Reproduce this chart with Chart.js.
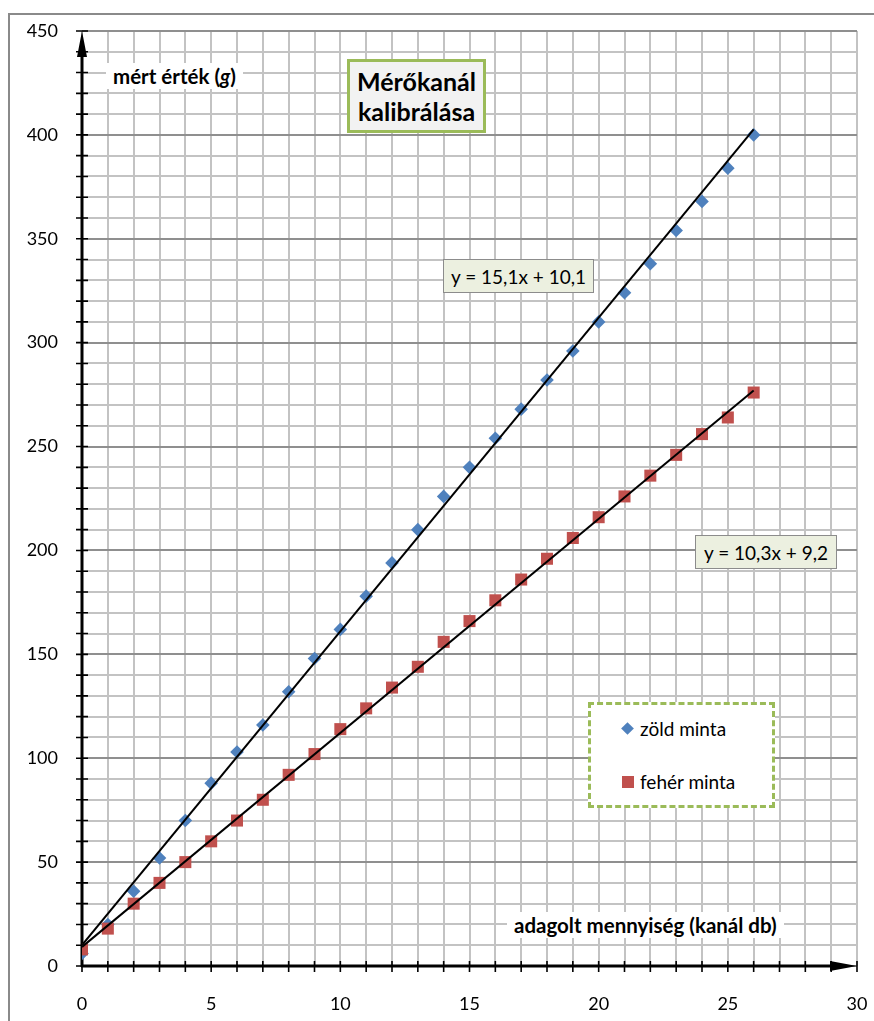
<!DOCTYPE html>
<html>
<head>
<meta charset="utf-8">
<script src="https://cdn.jsdelivr.net/npm/chart.js@4.4.1/dist/chart.umd.min.js"></script>
<style>
  html, body { margin: 0; padding: 0; background: #fff; }
  body { font-family: Lato, "Open Sans", sans-serif; color: #000; }
  #wrap { position: relative; width: 874px; height: 1021px; overflow: hidden; }
  #frame { position: absolute; left: 8px; top: 13px; right: -10px; bottom: -10px;
           border-top: 2px solid #8a8a8a; border-left: 2px solid #8a8a8a; }
  canvas { position: absolute; left: 0; top: 0; }
  .box { position: absolute; box-sizing: border-box; display: flex; flex-direction: column;
         align-items: center; justify-content: center; text-align: center; }
  #title { left: 347px; top: 59px; width: 139px; height: 74px; background: #f2f2f2;
           border: 3px solid #9bbb59; font-weight: bold; font-size: 25px; line-height: 30px; }
  .eq { background: #ecf0e0; border: 1.5px solid #8c8c8c; font-size: 19px; height: 34px; white-space: nowrap; }
  #eq1 { left: 443px; top: 259px; width: 151px; }
  #eq2 { left: 695px; top: 535px; width: 142px; }
  #legend { position: absolute; left: 588px; top: 702px; width: 187px; height: 106px;
            box-sizing: border-box; border: 3px dashed #9bbb59; background: #fff; }
  .lt { position: absolute; left: 49px; font-size: 19px; line-height: 22px; white-space: nowrap; }
  .dia { position: absolute; left: 32px; top: 19px; width: 9px; height: 9px; background: #4f81bd; transform: rotate(45deg); }
  .sq { position: absolute; left: 31px; top: 71px; width: 12px; height: 12px; background: #c0504d; }
  .atitle { position: absolute; background: #fff; font-weight: bold; font-size: 20.5px;
            line-height: 22px; padding: 2px 7px; white-space: nowrap; }
  #ytitle { left: 106px; top: 63px; }
  #xtitle { left: 507px; top: 912px; }
</style>
</head>
<body>
<div id="wrap">
  <div id="frame"></div>
  <canvas id="chart" width="874" height="1021"></canvas>
  <div id="ytitle" class="atitle">mért érték (<i>g</i>)</div>
  <div id="xtitle" class="atitle">adagolt mennyiség (kanál db)</div>
  <div id="title" class="box"><div>Mérőkanál</div><div>kalibrálása</div></div>
  <div id="eq1" class="box eq">y = 15,1x + 10,1</div>
  <div id="eq2" class="box eq">y = 10,3x + 9,2</div>
  <div id="legend">
    <div class="dia"></div><div class="lt" style="top:13px">zöld minta</div>
    <div class="sq"></div><div class="lt" style="top:66px">fehér minta</div>
  </div>
</div>
<script>
// spoon counts (kanál db)
const spoons = [0, 1, 2, 3, 4, 5, 6, 7, 8, 9, 10, 11, 12, 13, 14, 15, 16, 17, 18, 19, 20, 21, 22, 23, 24, 25, 26];
// measured mass (g)
const greenSample = [6, 20, 36, 52, 70, 88, 103, 116, 132, 148, 162, 178, 194, 210, 226, 240, 254, 268, 282, 296, 310, 324, 338, 354, 368, 384, 400];
const whiteSample = [8, 18, 30, 40, 50, 60, 70, 80, 92, 102, 114, 124, 134, 144, 156, 166, 176, 186, 196, 206, 216, 226, 236, 246, 256, 264, 276];
// trendline coefficients as printed on the chart
const trendSlope = [15.1, 10.3];
const trendIntercept = [10.1, 9.2];
const trendRange = [0, 26];

const xMax = 30, yMax = 450;

function pts(ys){ return spoons.map((x, i) => ({x, y: ys[i]})); }
function trend(k){
  return trendRange.map(x => ({x, y: trendSlope[k] * x + trendIntercept[k]}));
}

// axes with arrows and cross ticks, drawn under the markers
const arrowAxes = {
  id: 'arrowAxes',
  beforeDatasetsDraw(chart){
    const {ctx, scales: {x, y}} = chart;
    const x0 = x.getPixelForValue(0), y0 = y.getPixelForValue(0);
    const xEnd = x.getPixelForValue(xMax), yEnd = y.getPixelForValue(yMax);
    ctx.save();
    ctx.strokeStyle = '#000'; ctx.fillStyle = '#000';
    ctx.lineWidth = 1.6;
    ctx.beginPath();
    for(let v = 0; v <= yMax; v += 10){
      const p = y.getPixelForValue(v);
      ctx.moveTo(x0 - 6, p); ctx.lineTo(x0 + 6, p);
    }
    for(let v = 0; v <= xMax; v += 1){
      const p = x.getPixelForValue(v);
      ctx.moveTo(p, y0 - 5); ctx.lineTo(p, y0 + 6);
    }
    ctx.stroke();
    ctx.lineWidth = 3;
    ctx.beginPath();
    ctx.moveTo(x0, y0 + 1); ctx.lineTo(x0, yEnd + 20);
    ctx.moveTo(x0 - 1, y0); ctx.lineTo(xEnd - 20, y0);
    ctx.stroke();
    ctx.beginPath();
    ctx.moveTo(x0, yEnd); ctx.lineTo(x0 - 5, yEnd + 26); ctx.lineTo(x0 + 5, yEnd + 26); ctx.closePath();
    ctx.moveTo(xEnd, y0); ctx.lineTo(xEnd - 27, y0 - 5); ctx.lineTo(xEnd - 27, y0 + 5); ctx.closePath();
    ctx.fill();
    ctx.restore();
  }
};

new Chart(document.getElementById('chart'), {
  type: 'scatter',
  data: {
    datasets: [
      { label: 'trend zöld', type: 'line', data: trend(0), borderColor: '#000', borderWidth: 2,
        pointRadius: 0, fill: false, order: 0 },
      { label: 'trend fehér', type: 'line', data: trend(1), borderColor: '#000', borderWidth: 2,
        pointRadius: 0, fill: false, order: 0 },
      { label: 'fehér minta', data: pts(whiteSample), pointStyle: 'rect', pointRadius: 8.5,
        backgroundColor: '#c0504d', borderColor: '#c0504d', borderWidth: 0, order: 1 },
      { label: 'zöld minta', data: pts(greenSample), pointStyle: 'rectRot', pointRadius: 6.8,
        backgroundColor: '#4f81bd', borderColor: '#4f81bd', borderWidth: 0, order: 2 }
    ]
  },
  options: {
    responsive: false,
    animation: false,
    devicePixelRatio: 1,
    layout: { padding: { top: 31, right: 17, left: 0, bottom: 0 } },
    plugins: { legend: { display: false }, tooltip: { enabled: false } },
    scales: {
      x: {
        type: 'linear', min: 0, max: xMax,
        afterFit(s){ s.height = 55; s.paddingLeft = 0; s.paddingRight = 0; },
        border: { display: false },
        grid: { color: '#c3c3c3', lineWidth: 2, drawTicks: false },
        ticks: { stepSize: 1, autoSkip: false, maxRotation: 0, padding: 27, color: '#000',
                 font: { family: 'Lato', size: 18 },
                 callback: v => v % 5 === 0 ? v : '' }
      },
      y: {
        type: 'linear', min: 0, max: yMax,
        afterFit(s){ s.width = 82; s.paddingTop = 0; s.paddingBottom = 0; },
        border: { display: false },
        grid: { lineWidth: 2, drawTicks: false,
                color: c => c.tick && c.tick.value % 50 === 0 ? '#8f8f8f' : '#c3c3c3' },
        ticks: { stepSize: 10, autoSkip: false, padding: 24, color: '#000',
                 font: { family: 'Lato', size: 18 },
                 callback: v => v % 50 === 0 ? v : '' }
      }
    }
  },
  plugins: [arrowAxes]
});
</script>
</body>
</html>
